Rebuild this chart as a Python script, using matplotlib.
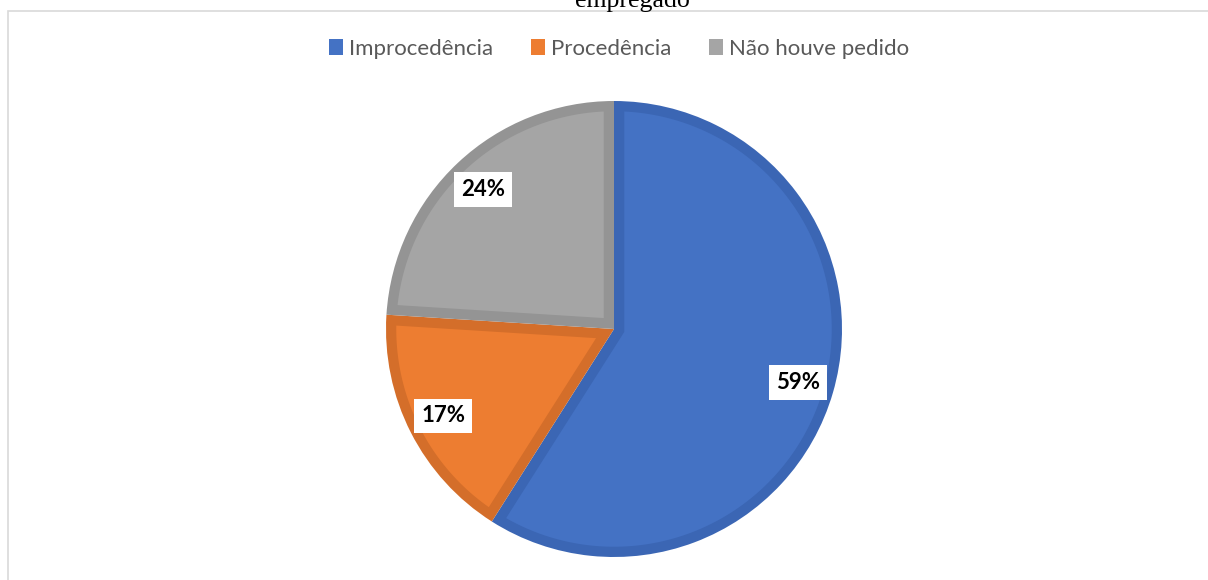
import matplotlib
matplotlib.use("Agg")
import matplotlib.pyplot as plt
import numpy as np
from matplotlib.patches import Rectangle, Polygon

# Chart data
categories = ["Improcedência", "Procedência", "Não houve pedido"]
shares = [59, 17, 24]
face_colors = ["#4472C4", "#ED7D31", "#A5A5A5"]
edge_colors = ["#3B66B4", "#D46E2A", "#949494"]
title = "empregado"

W, H = 1208, 580
fig = plt.figure(figsize=(W / 100, H / 100), dpi=100)

# Chart area border (light gray frame)
fig.patches.append(Rectangle((8 / W, -0.1), 1.5, (H - 11) / H + 0.1,
                             transform=fig.transFigure, fill=False,
                             edgecolor="#D9D9D9", linewidth=1.2))

# Pie axes: centre at (614, 329) px, radius 228 px
cx, cy, r = 614, 329, 228
ax = fig.add_axes([(cx - r) / W, (H - cy - r) / H, 2 * r / W, 2 * r / H])

wedges, _, autotexts = ax.pie(
    shares, colors=edge_colors, startangle=90, counterclock=False,
    radius=1.0, autopct=lambda p: f"{round(p):d}%", pctdistance=0.84,
    textprops=dict(fontsize=16, fontweight="bold", color="black",
                   family="Lato"),
)
ax.set_xlim(-1, 1)
ax.set_ylim(-1, 1)
ax.axis("off")


def inset_wedge(w, d):
    # lighter inner face, inset by d from every side of the wedge
    t1, t2 = np.radians(w.theta1), np.radians(w.theta2)
    R = w.r
    half = (t2 - t1) / 2
    mid = (t1 + t2) / 2
    k = d / np.sin(half)
    corner = (k * np.cos(mid), k * np.sin(mid))
    da = np.arcsin(d / (R - d))
    arc = np.linspace(t1 + da, t2 - da, 200)
    pts = [corner] + [((R - d) * np.cos(a), (R - d) * np.sin(a)) for a in arc]
    return pts


for w, fc in zip(wedges, face_colors):
    w.set_edgecolor("none")
    ax.add_patch(Polygon(inset_wedge(w, 0.045), closed=True, facecolor=fc,
                         edgecolor="none", zorder=w.get_zorder() + 0.1))

for t in autotexts:
    t.set_zorder(5)
    t.set_bbox(dict(facecolor="white", edgecolor="none", pad=5))

# Title, cut off at the top edge
fig.text(632 / W, 1 - 6.5 / H, title, ha="center", va="baseline",
         fontsize=18.6, family="Liberation Serif", color="black")

# Legend
handles = [Rectangle((0, 0), 1, 1, facecolor=c) for c in face_colors]
fig.legend(handles, categories, loc="center", bbox_to_anchor=(619 / W, 1 - 49 / H),
           ncol=3, frameon=False, handlelength=0.65, handleheight=0.7,
           handletextpad=0.25, columnspacing=1.7, labelcolor="#595959",
           prop=dict(family="Lato", size=16))

fig.savefig("out.png", dpi=100)
